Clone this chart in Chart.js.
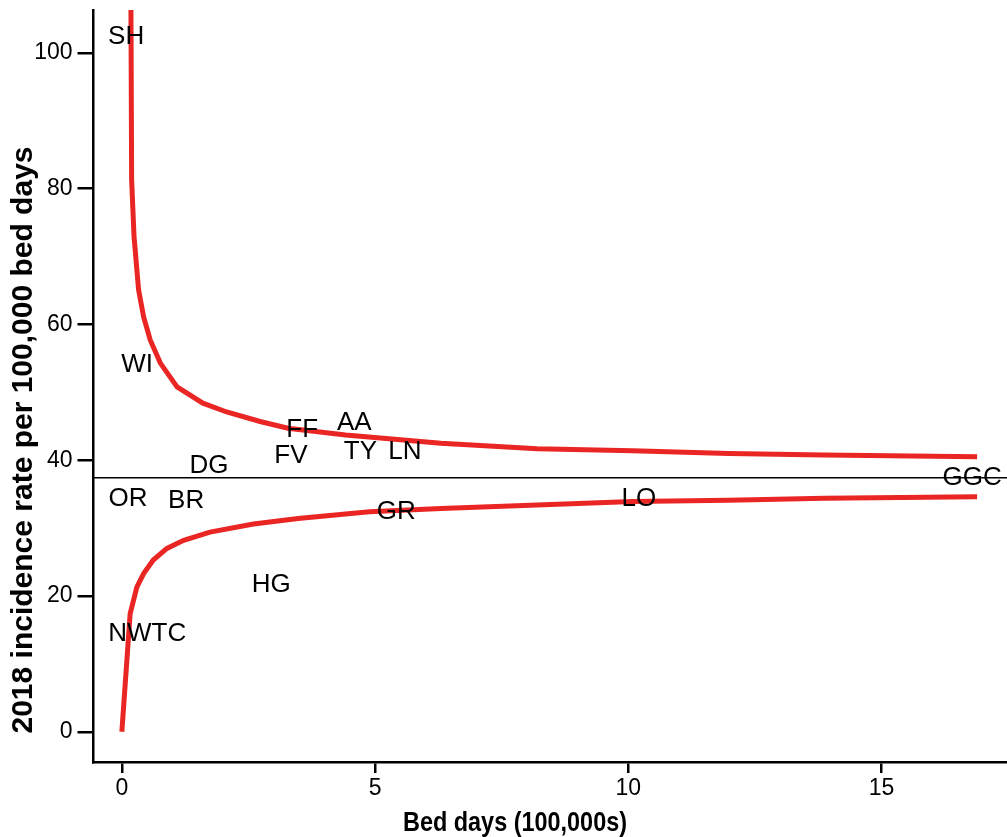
<!DOCTYPE html>
<html>
<head>
<meta charset="utf-8">
<script src="https://cdn.jsdelivr.net/npm/chart.js@4"></script>
<style>
  body { margin: 0; background: #fff; }
  #wrap { width: 1007px; height: 837px; }
</style>
</head>
<body>
<div id="wrap"><canvas id="funnel" width="1007" height="837"></canvas></div>
<script>
// health boards: bed days (100,000s) and 2018 incidence rate
const boards = ['SH', 'WI', 'FF', 'AA', 'FV', 'TY', 'LN', 'DG', 'GGC', 'OR', 'BR', 'GR', 'LO', 'HG', 'NWTC'];
const bedDays = [0.085, 0.30, 3.56, 4.59, 3.34, 4.71, 5.59, 1.72, 16.79, 0.12, 1.27, 5.42, 10.21, 2.95, 0.50];
const rates = [102.3, 54.0, 44.4, 45.5, 40.6, 41.3, 41.3, 39.1, 37.4, 34.3, 34.0, 32.4, 34.3, 21.7, 14.5];

const overallRate = 37.4;

// control limits
const upperX = [0.175, 0.193, 0.24, 0.33, 0.43, 0.56, 0.76, 1.09, 1.6, 2.07, 2.73, 3.28, 4.42, 6.3, 8.2, 10.09, 11.98, 13.87, 16.89];
const upperY = [115, 81.3, 73, 65.1, 61.1, 57.7, 54.3, 50.8, 48.4, 47.1, 45.7, 44.7, 43.7, 42.5, 41.7, 41.4, 41.0, 40.75, 40.5];
const lowerX = [0, 0.164, 0.296, 0.43, 0.62, 0.89, 1.22, 1.74, 2.6, 3.48, 4.89, 6.3, 8.2, 10.09, 11.98, 13.87, 16.89];
const lowerY = [0, 17.4, 21.3, 23.3, 25.3, 27.0, 28.2, 29.4, 30.6, 31.4, 32.4, 32.9, 33.4, 33.9, 34.1, 34.4, 34.6];

const xTicks = [0, 5, 10, 15];
const yTicks = [0, 20, 40, 60, 80, 100];

const red = 'rgb(233, 38, 36)';
const toPts = (xs, ys) => xs.map((x, i) => ({ x: x, y: ys[i] }));

// board codes written at their points, plus axis titles
const textPlugin = {
  id: 'boardText',
  afterDatasetsDraw(chart) {
    const ctx = chart.ctx;
    const xs = chart.scales.x, ys = chart.scales.y;
    ctx.save();
    ctx.fillStyle = '#000';
    ctx.font = '26px "Liberation Sans", Arial, sans-serif';
    ctx.textAlign = 'center';
    ctx.textBaseline = 'middle';
    boards.forEach((b, i) => {
      ctx.fillText(b, xs.getPixelForValue(bedDays[i]), ys.getPixelForValue(rates[i]));
    });
    ctx.restore();
  },
  afterDraw(chart) {
    const ctx = chart.ctx;
    ctx.save();
    ctx.fillStyle = '#000';
    ctx.textAlign = 'center';
    ctx.textBaseline = 'middle';
    ctx.font = 'bold 28px "Liberation Sans", Arial, sans-serif';
    ctx.fillText('Bed days (100,000s)', 515, 823, 224);
    ctx.translate(24, 440);
    ctx.rotate(-Math.PI / 2);
    ctx.font = 'bold 30px "Liberation Sans", Arial, sans-serif';
    ctx.fillText('2018 incidence rate per 100,000 bed days', 0, 0, 588);
    ctx.restore();
  }
};

new Chart(document.getElementById('funnel'), {
  type: 'scatter',
  data: {
    datasets: [
      {
        data: [{ x: -0.56, y: overallRate }, { x: 17.48, y: overallRate }],
        showLine: true,
        borderColor: '#000',
        borderWidth: 1.5,
        pointRadius: 0
      },
      {
        data: toPts(upperX, upperY),
        showLine: true,
        borderColor: red,
        borderWidth: 5,
        pointRadius: 0,
        tension: 0
      },
      {
        data: toPts(lowerX, lowerY),
        showLine: true,
        borderColor: red,
        borderWidth: 5,
        pointRadius: 0,
        tension: 0
      }
    ]
  },
  options: {
    responsive: false,
    animation: false,
    layout: { padding: { top: 10, right: 0, left: 0, bottom: 0 } },
    plugins: { legend: { display: false }, tooltip: { enabled: false } },
    scales: {
      x: {
        type: 'linear',
        min: -0.56,
        max: 17.48,
        afterBuildTicks: s => { s.ticks = xTicks.map(v => ({ value: v })); },
        afterFit: s => { s.height = 75; s.paddingLeft = 0; s.paddingRight = 0; },
        grid: { drawOnChartArea: false, drawTicks: true, tickLength: 11, tickColor: '#000', lineWidth: 2.5 },
        border: { display: true, color: '#000', width: 2.5 },
        ticks: { color: '#000', padding: 2, font: { family: '"Liberation Sans", Arial, sans-serif', size: 23 }, maxRotation: 0 }
      },
      y: {
        type: 'linear',
        min: -4.45,
        max: 106.3,
        afterBuildTicks: s => { s.ticks = yTicks.map(v => ({ value: v })); },
        afterFit: s => { s.width = 93.5; s.paddingTop = 0; s.paddingBottom = 0; },
        grid: { drawOnChartArea: false, drawTicks: true, tickLength: 16, tickColor: '#000', lineWidth: 2.5 },
        border: { display: true, color: '#000', width: 2.5 },
        ticks: { color: '#000', padding: 5, font: { family: '"Liberation Sans", Arial, sans-serif', size: 23 } }
      }
    }
  },
  plugins: [textPlugin]
});
</script>
</body>
</html>
